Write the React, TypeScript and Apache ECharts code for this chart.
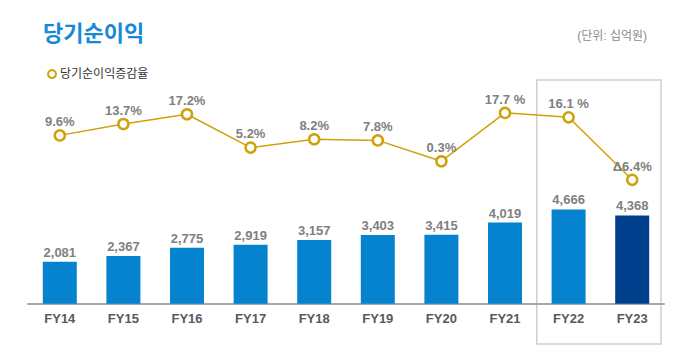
import React, { useEffect, useRef } from "react";
import * as echarts from "echarts";

const categories = ["FY14", "FY15", "FY16", "FY17", "FY18", "FY19", "FY20", "FY21", "FY22", "FY23"];
const netIncome = [2081, 2367, 2775, 2919, 3157, 3403, 3415, 4019, 4666, 4368];
const netIncomeLabels = ["2,081", "2,367", "2,775", "2,919", "3,157", "3,403", "3,415", "4,019", "4,666", "4,368"];
const growth = [9.6, 13.7, 17.2, 5.2, 8.2, 7.8, 0.3, 17.7, 16.1, -6.4];
const growthLabels = ["9.6%", "13.7%", "17.2%", "5.2%", "8.2%", "7.8%", "0.3%", "17.7 %", "16.1 %", "Δ6.4%"];
const highlighted = ["FY22", "FY23"];

const FONT = "'Liberation Sans', 'Noto Sans CJK KR', sans-serif";
const BLUE = "#0683cf";
const DARK = "#003f8c";
const GOLD = "#cfa10a";

export default function App() {
  const ref = useRef<HTMLDivElement>(null);
  useEffect(() => {
    if (!ref.current) return;
    const chart = echarts.init(ref.current, null, { renderer: "svg" });
    chart.setOption({
      animation: false,
      backgroundColor: "#ffffff",
      title: [
        {
          text: "당기순이익",
          left: 38,
          top: 17,
          textStyle: { fontFamily: FONT, fontSize: 22, fontWeight: "bold", color: "#1589d6" },
        },
        {
          text: "(단위: 십억원)",
          right: 48,
          top: 25,
          textStyle: { fontFamily: FONT, fontSize: 12, fontWeight: "normal", color: "#8a8a8a" },
        },
      ],
      legend: {
        left: 42,
        top: 63,
        icon: "circle",
        itemWidth: 8,
        itemHeight: 8,
        itemGap: 6,
        data: ["당기순이익증감율"],
        itemStyle: { color: "#ffffff", borderColor: GOLD, borderWidth: 2 },
        textStyle: { fontFamily: FONT, fontSize: 12, color: "#333333", padding: [0, 0, 0, -1] },
      },
      grid: { left: 28, right: 36, top: 81.5, bottom: 57.3, containLabel: false },
      xAxis: {
        type: "category",
        data: categories,
        axisLine: { lineStyle: { color: "#a6a6a6", width: 2 } },
        axisTick: { show: false },
        axisLabel: { fontFamily: FONT, fontSize: 13, fontWeight: "bold", color: "#595959", margin: 8 },
      },
      yAxis: [
        { type: "value", min: 0, max: 11000, show: false, splitLine: { show: false } },
        { type: "value", min: -51, max: 29, show: false, splitLine: { show: false } },
      ],
      series: [
        {
          name: "당기순이익",
          type: "bar",
          barWidth: 34,
          data: netIncome.map((v, i) => ({
            value: v,
            itemStyle: { color: highlighted[1] === categories[i] ? DARK : BLUE },
          })),
          label: {
            show: true,
            position: "top",
            distance: 3,
            fontFamily: FONT,
            fontSize: 13,
            fontWeight: "bold",
            color: "#808080",
            formatter: (p: any) => netIncomeLabels[p.dataIndex],
          },
          z: 2,
        },
        {
          name: "당기순이익증감율",
          type: "line",
          yAxisIndex: 1,
          data: growth,
          symbol: "circle",
          symbolSize: 10,
          lineStyle: { color: GOLD, width: 1.5 },
          itemStyle: { color: "#ffffff", borderColor: GOLD, borderWidth: 2.5 },
          label: {
            show: true,
            position: "top",
            distance: 1,
            fontFamily: FONT,
            fontSize: 13,
            fontWeight: "bold",
            color: "#808080",
            formatter: (p: any) => growthLabels[p.dataIndex],
          },
          z: 5,
        },
      ],
    });
    const x0 = chart.convertToPixel({ xAxisIndex: 0 }, highlighted[0]) as number;
    const x1 = chart.convertToPixel({ xAxisIndex: 0 }, highlighted[1]) as number;
    const half = (x1 - x0) / 2;
    chart.setOption({
      graphic: [
        {
          type: "rect",
          shape: { x: x0 - half, y: 80, width: x1 - x0 + 2 * half - 3, height: 264 },
          style: { fill: "none", stroke: "#cfcfcf", lineWidth: 1.5 },
          z: 0,
        },
      ],
    });
    return () => chart.dispose();
  }, []);
  return <div ref={ref} style={{ width: 700, height: 361, position: "absolute", left: 0, top: 0 }} />;
}
